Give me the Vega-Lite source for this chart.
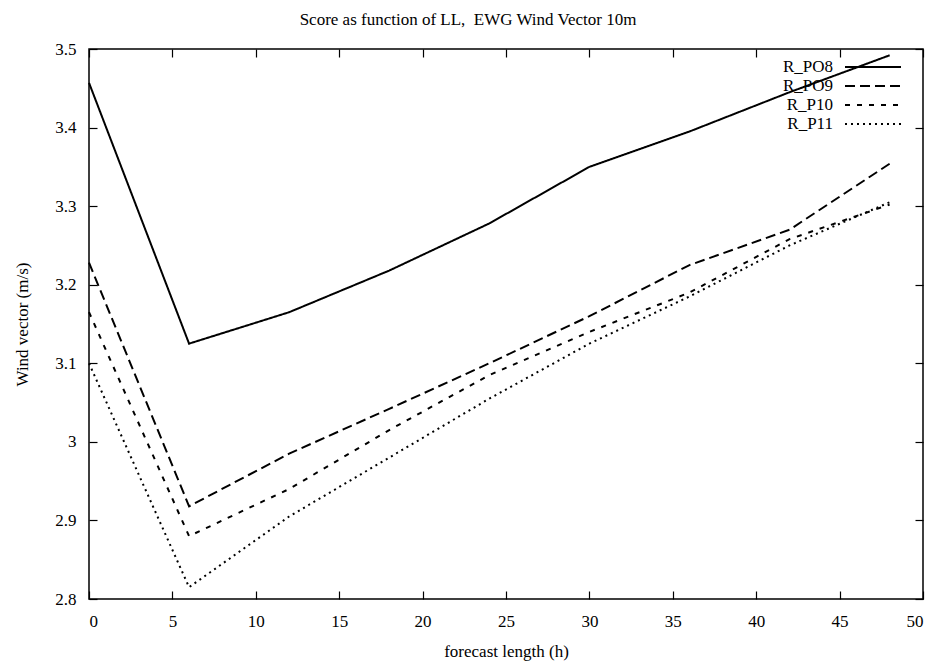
{
  "$schema": "https://vega.github.io/schema/vega-lite/v6.json",
  "width": 834,
  "height": 550,
  "autosize": "none",
  "padding": {"left": 89, "top": 49, "right": 16, "bottom": 65},
  "background": "white",
  "config": {
    "font": "Liberation Serif",
    "view": {"stroke": "black", "strokeWidth": 1.5},
    "axis": {
      "domain": false,
      "grid": false,
      "tickColor": "black",
      "tickSize": -8,
      "tickWidth": 1.2,
      "labelFont": "Liberation Serif",
      "labelFontSize": 17,
      "labelColor": "black",
      "titleFont": "Liberation Serif",
      "titleFontSize": 17,
      "titleFontWeight": "normal",
      "titleColor": "black"
    }
  },
  "title": {
    "text": "Score as function of LL,\u00a0 EWG Wind Vector 10m",
    "font": "Liberation Serif",
    "fontSize": 17,
    "fontWeight": "normal",
    "color": "black",
    "baseline": "alphabetic",
    "offset": -2,
    "dx": -38
  },
  "data": {
    "values": [
      {"h": 0, "series": "R_PO8", "v": 3.457},
      {"h": 6, "series": "R_PO8", "v": 3.125},
      {"h": 12, "series": "R_PO8", "v": 3.165},
      {"h": 18, "series": "R_PO8", "v": 3.218},
      {"h": 24, "series": "R_PO8", "v": 3.278},
      {"h": 30, "series": "R_PO8", "v": 3.35},
      {"h": 36, "series": "R_PO8", "v": 3.395},
      {"h": 42, "series": "R_PO8", "v": 3.445},
      {"h": 48, "series": "R_PO8", "v": 3.492},
      {"h": 0, "series": "R_PO9", "v": 3.228},
      {"h": 6, "series": "R_PO9", "v": 2.918},
      {"h": 12, "series": "R_PO9", "v": 2.985},
      {"h": 18, "series": "R_PO9", "v": 3.042},
      {"h": 24, "series": "R_PO9", "v": 3.1},
      {"h": 30, "series": "R_PO9", "v": 3.16},
      {"h": 36, "series": "R_PO9", "v": 3.225},
      {"h": 42, "series": "R_PO9", "v": 3.27},
      {"h": 48, "series": "R_PO9", "v": 3.354},
      {"h": 0, "series": "R_P10", "v": 3.165},
      {"h": 6, "series": "R_P10", "v": 2.88},
      {"h": 12, "series": "R_P10", "v": 2.94},
      {"h": 18, "series": "R_P10", "v": 3.015},
      {"h": 24, "series": "R_P10", "v": 3.085},
      {"h": 30, "series": "R_P10", "v": 3.14},
      {"h": 36, "series": "R_P10", "v": 3.19},
      {"h": 42, "series": "R_P10", "v": 3.258},
      {"h": 48, "series": "R_P10", "v": 3.302},
      {"h": 0, "series": "R_P11", "v": 3.1},
      {"h": 6, "series": "R_P11", "v": 2.815},
      {"h": 12, "series": "R_P11", "v": 2.905},
      {"h": 18, "series": "R_P11", "v": 2.98},
      {"h": 24, "series": "R_P11", "v": 3.055},
      {"h": 30, "series": "R_P11", "v": 3.125},
      {"h": 36, "series": "R_P11", "v": 3.185},
      {"h": 42, "series": "R_P11", "v": 3.25},
      {"h": 48, "series": "R_P11", "v": 3.305}
    ]
  },
  "layer": [
    {
      "mark": {"type": "line", "color": "black", "strokeWidth": 2},
      "encoding": {
        "x": {
          "field": "h",
          "type": "quantitative",
          "scale": {"domain": [0, 50], "nice": false, "zero": false},
          "axis": {
            "orient": "bottom",
            "values": [0, 5, 10, 15, 20, 25, 30, 35, 40, 45, 50],
            "title": "forecast length (h)",
            "labelPadding": 22,
            "titleY": 52,
            "titleBaseline": "middle"
          }
        },
        "y": {
          "field": "v",
          "type": "quantitative",
          "scale": {"domain": [2.8, 3.5], "nice": false, "zero": false},
          "axis": {
            "orient": "left",
            "values": [2.8, 2.9, 3.0, 3.1, 3.2, 3.3, 3.4, 3.5],
            "format": "~g",
            "title": "Wind vector (m/s)",
            "labelPadding": 21,
            "titleX": -67,
            "titleY": 275,
            "titleAngle": -90,
            "titleAlign": "center",
            "titleBaseline": "middle"
          }
        },
        "strokeDash": {
          "field": "series",
          "type": "nominal",
          "scale": {
            "domain": ["R_PO8", "R_PO9", "R_P10", "R_P11"],
            "range": [[1, 0], [10, 5], [5, 7], [2, 4]]
          },
          "legend": {
            "title": null,
            "orient": "none",
            "legendX": 773,
            "legendY": 7,
            "symbolType": "M-2.8,0H2.8",
            "symbolSize": 400,
            "symbolStrokeWidth": 2,
            "symbolStrokeColor": "black",
            "symbolOpacity": 1,
            "labelAlign": "right",
            "labelOffset": -51,
            "labelBaseline": "middle",
            "rowPadding": -1,
            "padding": 0,
            "labelFont": "Liberation Serif",
            "labelFontSize": 17,
            "labelColor": "black"
          }
        }
      }
    },
    {
      "mark": {"type": "line", "opacity": 0},
      "encoding": {
        "x": {
          "field": "h",
          "type": "quantitative",
          "axis": {
            "orient": "top",
            "values": [0, 5, 10, 15, 20, 25, 30, 35, 40, 45, 50],
            "labels": false,
            "title": null
          }
        },
        "y": {
          "field": "v",
          "type": "quantitative",
          "axis": {
            "orient": "right",
            "values": [2.8, 2.9, 3.0, 3.1, 3.2, 3.3, 3.4, 3.5],
            "labels": false,
            "title": null
          }
        }
      }
    }
  ],
  "resolve": {"axis": {"x": "independent", "y": "independent"}}
}
